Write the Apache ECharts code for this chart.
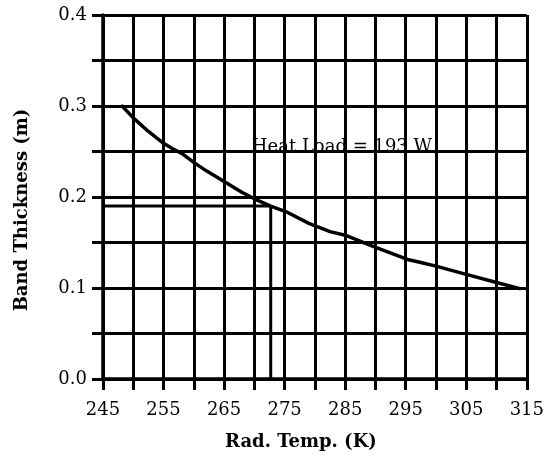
<!DOCTYPE html>
<html>
<head>
<meta charset="utf-8">
<script src="https://cdn.jsdelivr.net/npm/echarts@6/dist/echarts.min.js"></script>
<style>
  html, body { margin: 0; padding: 0; background: #fff; }
  #chart { width: 547px; height: 458px; }
</style>
</head>
<body>
<div id="chart"></div>
<script>
// curve: band thickness vs radiator temperature
const radTemp = [248, 250, 252.5, 255, 256.5, 258, 260, 262, 265, 268, 270, 272.7, 275.5, 279, 282.5, 285, 289.5, 295.5, 297.5, 300, 305, 310, 314];
const thickness = [0.301, 0.287, 0.272, 0.259, 0.253, 0.248, 0.238, 0.229, 0.217, 0.205, 0.198, 0.19, 0.183, 0.171, 0.162, 0.158, 0.146, 0.131, 0.128, 0.124, 0.115, 0.106, 0.099];

// design point read-off lines
const designTemp = 272.7;
const designThick = 0.19;

const labelText = "Heat Load = 193 W";
const labelPos = [270, 0.25];

const serif = "DejaVu Serif";

const chart = echarts.init(document.getElementById("chart"));

const option = {
  animation: false,
  grid: { left: 103, right: 19, top: 15, bottom: 79 },
  xAxis: {
    type: "value",
    min: 245,
    max: 315,
    interval: 5,
    name: "Rad. Temp. (K)",
    nameLocation: "middle",
    nameGap: 54,
    nameTextStyle: { fontFamily: serif, fontWeight: "bold", fontSize: 18, color: "#000", padding: [0, 28, 0, 0] },
    axisLine: { lineStyle: { color: "#000", width: 3.5 } },
    axisTick: { show: true, length: 11, lineStyle: { color: "#000", width: 3 } },
    axisLabel: {
      margin: 22,
      fontFamily: serif,
      fontSize: 18,
      color: "#000",
      formatter: (v) => ((v - 245) % 10 === 0 ? String(v) : "")
    },
    splitLine: { show: true, lineStyle: { color: "#000", width: 3 } }
  },
  yAxis: {
    type: "value",
    min: 0,
    max: 0.4,
    interval: 0.05,
    name: "Band Thickness (m)",
    nameLocation: "middle",
    nameGap: 72,
    nameTextStyle: { fontFamily: serif, fontWeight: "bold", fontSize: 18, color: "#000", padding: [0, 26, 0, 0] },
    axisLine: { show: true, lineStyle: { color: "#000", width: 3.5 } },
    axisTick: { show: true, length: 11, lineStyle: { color: "#000", width: 3 } },
    axisLabel: {
      margin: 16,
      fontFamily: serif,
      fontSize: 18,
      color: "#000",
      formatter: (v) => (Math.round(v * 100) % 10 === 0 ? v.toFixed(1) : "")
    },
    splitLine: { show: true, lineStyle: { color: "#000", width: 3 } }
  },
  series: [
    {
      type: "line",
      data: radTemp.map((t, i) => [t, thickness[i]]),
      showSymbol: false,
      symbol: "none",
      lineStyle: { color: "#000", width: 3.5 },
      z: 3
    },
    {
      type: "line",
      data: [[245, designThick], [designTemp, designThick]],
      symbol: "none",
      lineStyle: { color: "#000", width: 3 },
      z: 3
    },
    {
      type: "line",
      data: [[designTemp, 0], [designTemp, designThick]],
      symbol: "none",
      lineStyle: { color: "#000", width: 3 },
      z: 3
    },
    {
      type: "line",
      data: [labelPos],
      symbol: "circle",
      symbolSize: 1,
      showSymbol: true,
      itemStyle: { color: "rgba(0,0,0,0)", opacity: 1 },
      lineStyle: { width: 0 },
      silent: true,
      label: {
        show: true,
        position: [0, 0],
        align: "left",
        verticalAlign: "bottom",
        offset: [-2, 5],
        formatter: labelText,
        fontFamily: serif,
        fontSize: 18,
        color: "#000",
        opacity: 1
      },
      z: 4
    }
  ]
};

chart.setOption(option);
</script>
</body>
</html>
